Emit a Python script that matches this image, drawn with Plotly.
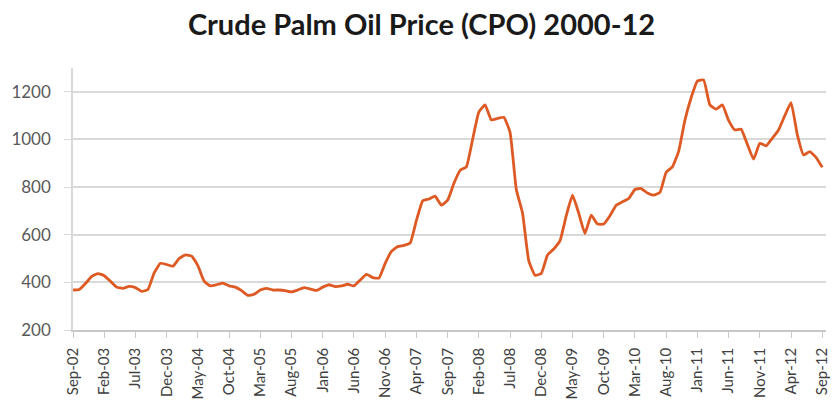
import plotly.graph_objects as go

tick_labels = ["Sep-02", "Feb-03", "Jul-03", "Dec-03", "May-04", "Oct-04", "Mar-05",
               "Aug-05", "Jan-06", "Jun-06", "Nov-06", "Apr-07", "Sep-07", "Feb-08",
               "Jul-08", "Dec-08", "May-09", "Oct-09", "Mar-10", "Aug-10", "Jan-11",
               "Jun-11", "Nov-11", "Apr-12", "Sep-12"]

month_index = list(range(121))

cpo_price = [
    368, 370, 395, 425, 437, 428, 405, 380, 375, 383,
    378, 362, 370, 440, 480, 475, 468, 500, 515, 510,
    470, 405, 385, 390, 397, 385, 380, 365, 345, 350,
    368, 375, 368, 368, 365, 360, 368, 378, 372, 366,
    380, 390, 382, 385, 392, 385, 410, 434, 420, 418,
    480, 530, 550, 555, 565, 660, 742, 750, 762, 724,
    745, 815, 870, 885, 1000, 1115, 1145, 1082, 1088, 1093,
    1030, 790, 690, 490, 430, 437, 515, 540, 575, 680,
    766, 690, 605, 682, 645, 645, 680, 724, 738, 752,
    790, 794, 775, 766, 778, 862, 885, 950, 1080, 1175,
    1245, 1250, 1145, 1127, 1145, 1080, 1040, 1043, 980, 917,
    984, 973, 1005, 1040, 1100, 1155, 1020, 935, 949, 925,
    883,
]

tick_positions = month_index[::5]

fig = go.Figure()
fig.add_trace(go.Scatter(
    x=month_index, y=cpo_price, mode="lines",
    line=dict(color="#DE5A24", width=2.8, shape="spline", smoothing=0.4),
    hoverinfo="skip", showlegend=False,
))

fig.update_layout(
    width=833, height=402,
    paper_bgcolor="white", plot_bgcolor="white",
    margin=dict(l=73, r=7, t=68, b=72, autoexpand=False),
    title=dict(text="<b>Crude Palm Oil Price (CPO) 2000-12</b>",
               x=0.506, xanchor="center", y=0.937, yanchor="middle",
               font=dict(family="Lato, Open Sans, sans-serif", size=29, color="#1a1a1a")),
    font=dict(family="Lato, Open Sans, sans-serif", color="#595959"),
)

fig.update_xaxes(
    range=[0, 120.6],
    tickmode="array", tickvals=tick_positions, ticktext=tick_labels,
    tickangle=-90, tickfont=dict(size=15, color="#404040"),
    ticks="outside", ticklen=6, tickcolor="#c8c8c8",
    showline=True, linecolor="#c8c8c8", linewidth=1.5,
    showgrid=False, zeroline=False, ticklabelstandoff=4,
)
fig.update_yaxes(
    range=[200, 1300],
    tickmode="array", tickvals=[200, 400, 600, 800, 1000, 1200],
    tickfont=dict(size=17, color="#595959"),
    ticks="outside", ticklen=7, tickcolor="#d9d9d9",
    showline=True, linecolor="#d9d9d9", linewidth=1.5,
    showgrid=True, gridcolor="#d9d9d9", gridwidth=1.5,
    zeroline=False, ticklabelstandoff=10,
)

fig.write_html("out.html", config={"displayModeBar": False},
               post_script="document.body.style.margin='0px';")
